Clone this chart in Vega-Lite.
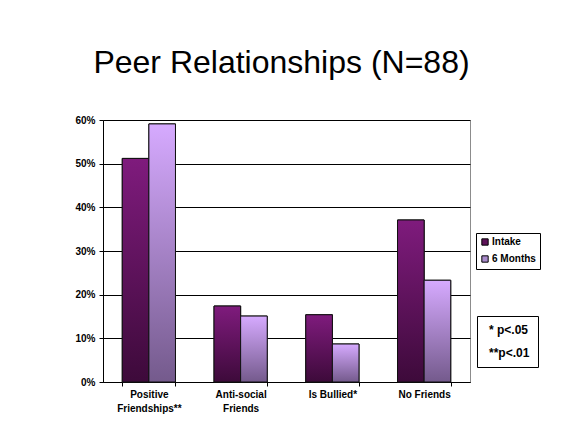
{
  "$schema": "https://vega.github.io/schema/vega-lite/v6.json",
  "width": 367,
  "height": 262,
  "autosize": {"type": "none"},
  "padding": {"left": 103, "top": 120, "right": 93, "bottom": 44},
  "background": "white",
  "config": {
    "view": {"stroke": "#8c8c8c", "strokeWidth": 1},
    "font": "Liberation Sans"
  },
  "title": {
    "text": "Peer Relationships (N=88)",
    "font": "Liberation Sans",
    "fontSize": 32,
    "fontWeight": "normal",
    "color": "black",
    "anchor": "middle",
    "frame": "group",
    "dx": -5,
    "offset": 35
  },
  "datasets": {
    "bars": [
      {"category": "Positive Friendships**", "series": "Intake", "value": 0.512},
      {"category": "Positive Friendships**", "series": "6 Months", "value": 0.591},
      {"category": "Anti-social Friends", "series": "Intake", "value": 0.174},
      {"category": "Anti-social Friends", "series": "6 Months", "value": 0.151},
      {"category": "Is Bullied*", "series": "Intake", "value": 0.154},
      {"category": "Is Bullied*", "series": "6 Months", "value": 0.087},
      {"category": "No Friends", "series": "Intake", "value": 0.371},
      {"category": "No Friends", "series": "6 Months", "value": 0.233}
    ],
    "notes": [
      {"note": "* p<.05"},
      {"note": "**p<.01"}
    ]
  },
  "encoding": {
    "x": {
      "field": "category",
      "type": "nominal",
      "sort": null,
      "scale": {"paddingInner": 0.42, "paddingOuter": 0.21},
      "axis": {
        "title": null,
        "labelAngle": 0,
        "tickBand": "extent",
        "labelExpr": "datum.value == 'Positive Friendships**' ? ['Positive', 'Friendships**'] : datum.value == 'Anti-social Friends' ? ['Anti-social', 'Friends'] : datum.value",
        "labelFont": "Liberation Sans",
        "labelFontWeight": "bold",
        "labelFontSize": 10,
        "labelColor": "black",
        "labelPadding": 3,
        "labelLineHeight": 14,
        "domainColor": "black",
        "tickColor": "black",
        "tickSize": 4
      }
    },
    "xOffset": {"field": "series", "type": "nominal", "sort": ["Intake", "6 Months"]},
    "y": {
      "field": "value",
      "type": "quantitative",
      "scale": {"domain": [0, 0.6]},
      "axis": {
        "title": null,
        "format": ".0%",
        "values": [0, 0.1, 0.2, 0.3, 0.4, 0.5, 0.6],
        "grid": true,
        "gridColor": "black",
        "gridOpacity": 1,
        "domainColor": "black",
        "tickColor": "black",
        "tickSize": 4,
        "labelFont": "Liberation Sans",
        "labelFontWeight": "bold",
        "labelFontSize": 10,
        "labelColor": "black",
        "labelPadding": 4
      }
    }
  },
  "layer": [
    {
      "data": {"name": "bars"},
      "mark": {"type": "bar", "stroke": "#111111", "strokeWidth": 1},
      "encoding": {
        "color": {
          "field": "series",
          "type": "nominal",
          "scale": {"domain": ["Intake", "6 Months"], "range": ["#5e1259", "#a98bcb"]},
          "legend": {
            "title": null,
            "orient": "none",
            "legendX": 373,
            "legendY": 113,
            "strokeColor": "black",
            "fillColor": "white",
            "padding": 4,
            "symbolType": "square",
            "symbolSize": 40,
            "symbolStrokeColor": "black",
            "symbolStrokeWidth": 1,
            "labelFont": "Liberation Sans",
            "labelFontWeight": "bold",
            "labelFontSize": 10,
            "labelColor": "black",
            "labelOffset": 2,
            "rowPadding": 5
          }
        }
      }
    },
    {
      "data": {"name": "bars"},
      "mark": {"type": "bar", "stroke": "#111111", "strokeWidth": 1},
      "encoding": {
        "color": {
          "condition": {
            "test": "datum.series === 'Intake'",
            "value": {"gradient": "linear", "x1": 0, "y1": 0, "x2": 0, "y2": 1, "stops": [{"offset": 0, "color": "#7f1b7d"}, {"offset": 1, "color": "#3d0a3a"}]}
          },
          "value": {"gradient": "linear", "x1": 0, "y1": 0, "x2": 0, "y2": 1, "stops": [{"offset": 0, "color": "#d6aaff"}, {"offset": 1, "color": "#745a8c"}]}
        }
      }
    },
    {
      "data": {"name": "notes"},
      "mark": {"type": "point", "opacity": 0},
      "encoding": {
        "x": null,
        "xOffset": null,
        "y": null,
        "shape": {
          "field": "note",
          "type": "nominal",
          "sort": null,
          "legend": {
            "title": null,
            "orient": "none",
            "legendX": 374,
            "legendY": 196,
            "strokeColor": "black",
            "fillColor": "white",
            "padding": 8,
            "symbolSize": 0,
            "symbolOpacity": 0,
            "symbolStrokeWidth": 0,
            "labelOffset": -8,
            "labelFont": "Liberation Sans",
            "labelFontWeight": "bold",
            "labelFontSize": 12,
            "labelColor": "black",
            "rowPadding": 11
          }
        }
      }
    }
  ]
}
